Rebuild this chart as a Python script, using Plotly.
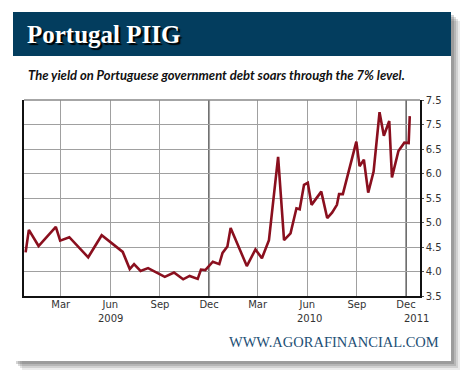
import plotly.graph_objects as go

# ---- data ----
dates = [
    "2008-12-26", "2009-01-01", "2009-01-19", "2009-02-20", "2009-02-28", "2009-03-17",
    "2009-04-21", "2009-05-16", "2009-06-24", "2009-07-07", "2009-07-15", "2009-07-27",
    "2009-08-10", "2009-09-10", "2009-09-27", "2009-10-14", "2009-10-26", "2009-11-10",
    "2009-11-16", "2009-11-24", "2009-12-08", "2009-12-20", "2009-12-26", "2010-01-04",
    "2010-01-10", "2010-01-27", "2010-02-09", "2010-02-25", "2010-03-09", "2010-03-22",
    "2010-04-08", "2010-04-19", "2010-05-01", "2010-05-12", "2010-05-18", "2010-05-26",
    "2010-06-02", "2010-06-09", "2010-06-27", "2010-07-08", "2010-07-17", "2010-07-26",
    "2010-07-30", "2010-08-06", "2010-08-31", "2010-09-06", "2010-09-14", "2010-09-22",
    "2010-10-02", "2010-10-13", "2010-10-21", "2010-10-31", "2010-11-05", "2010-11-17",
    "2010-11-28", "2010-12-06", "2010-12-08",
]
yields = [
    4.39, 4.85, 4.52, 4.91, 4.63, 4.70,
    4.29, 4.74, 4.40, 4.05, 4.15, 4.01,
    4.07, 3.89, 3.98, 3.84, 3.91, 3.85,
    4.04, 4.03, 4.20, 4.15, 4.38, 4.51,
    4.89, 4.44, 4.11, 4.45, 4.27, 4.64,
    6.34, 4.64, 4.78, 5.29, 5.27, 5.77,
    5.81, 5.36, 5.63, 5.09, 5.20, 5.36,
    5.58, 5.58, 6.65, 6.15, 6.28, 5.61,
    6.04, 7.25, 6.77, 7.07, 5.92, 6.46,
    6.63, 6.62, 7.17,
]

month_ticks = ["2009-03-01", "2009-06-01", "2009-09-01", "2009-12-01",
               "2010-03-01", "2010-06-01", "2010-09-01", "2010-12-01"]
month_labels = ["Mar", "Jun", "Sep", "Dec", "Mar", "Jun", "Sep", "Dec"]
year_pos = ["2009-06-01", "2010-06-05", "2010-12-20"]
year_labels = ["2009", "2010", "2011"]
y_ticks = [3.5, 4.0, 4.5, 5.0, 5.5, 6.0, 6.5, 7.0, 7.5]
y_labels = ["3.5", "4.0", "4.5", "5.0", "5.5", "6.0", "6.5", "7.5", "7.5"]
year_lines = ["2009-12-01", "2010-12-01"]

title = "Portugal PIIG"
subtitle = "The yield on Portuguese government debt soars through the 7% level."
footer = "WWW.AGORAFINANCIAL.COM"

# ---- geometry helpers (pixel -> paper) ----
W, H = 470, 383
L, R, T, B = 24, 420, 100, 296


def px(x):
    return (x - L) / (R - L)


def py(y):
    return (B - y) / (B - T)


HEADER = "#033d5e"
TICKFONT = dict(family="DejaVu Sans", size=10, color="#333333")

fig = go.Figure()
fig.add_trace(go.Scatter(x=dates, y=yields, mode="lines",
                         line=dict(color="#8a0f1e", width=2.6), hoverinfo="skip"))

shapes = []
# card shadow
for i, (off, op) in enumerate([(9, 0.10), (7, 0.14), (5, 0.18), (3, 0.22)]):
    shapes.append(dict(type="rect", xref="paper", yref="paper", layer="below",
                       x0=px(13 + off), x1=px(451 + off), y0=py(12 + off), y1=py(361 + off),
                       fillcolor=f"rgba(60,60,60,{op})", line=dict(width=0)))
# card
shapes.append(dict(type="rect", xref="paper", yref="paper", layer="below",
                   x0=px(13), x1=px(451), y0=py(12), y1=py(361),
                   fillcolor="white", line=dict(width=0)))
# header
shapes.append(dict(type="rect", xref="paper", yref="paper", layer="below",
                   x0=px(13), x1=px(451), y0=py(12), y1=py(56),
                   fillcolor=HEADER, line=dict(width=0)))
# year boundary lines
for d in year_lines:
    shapes.append(dict(type="line", xref="x", yref="paper", x0=d, x1=d, y0=0, y1=1,
                       line=dict(color="#6a6a6a", width=2), layer="below"))
# top border
shapes.append(dict(type="line", xref="paper", yref="paper", x0=0, x1=1, y0=1, y1=1,
                   line=dict(color="#888888", width=1.5)))

annotations = [
    dict(text=title, xref="paper", yref="paper", x=px(25), y=py(35), xanchor="left",
         yanchor="middle", showarrow=False,
         font=dict(family="Liberation Serif", size=25, color="white", weight="bold",
                   shadow="2px 2px 1px #000000")),
    dict(text=subtitle, xref="paper", yref="paper", x=px(26), y=py(75), xanchor="left",
         yanchor="middle", showarrow=False,
         font=dict(family="Lato", size=13, color="#111111", style="italic", weight="bold")),
    dict(text=footer, xref="paper", yref="paper", x=px(441), y=py(342), xanchor="right",
         yanchor="middle", showarrow=False,
         font=dict(family="Liberation Serif", size=14.5, color="#1d4f75")),
]
for d, t in zip(year_pos, year_labels):
    annotations.append(dict(text=t, xref="x", yref="paper", x=d, y=py(318),
                            xanchor="center", yanchor="middle", showarrow=False,
                            font=TICKFONT))

fig.update_layout(
    width=W, height=H,
    margin=dict(l=L, r=W - R, t=T, b=H - B),
    paper_bgcolor="white", plot_bgcolor="rgba(0,0,0,0)",
    showlegend=False,
    shapes=shapes, annotations=annotations,
    xaxis=dict(type="date", range=["2008-12-23", "2010-12-27"],
               tickvals=month_ticks, ticktext=month_labels, tickfont=TICKFONT,
               showgrid=True, gridcolor="#a0a0a0", gridwidth=1,
               showline=True, linecolor="#111111", linewidth=1.5,
               ticks="", ticklabelstandoff=-2, zeroline=False, fixedrange=True),
    yaxis=dict(range=[3.5, 7.5], side="right", tickvals=y_ticks, ticktext=y_labels,
               tickfont=TICKFONT, showgrid=True, gridcolor="#a0a0a0", gridwidth=1,
               showline=True, mirror=True, linecolor="#111111", linewidth=1.5,
               ticks="outside", ticklen=2, tickcolor="#555555",
               zeroline=False, fixedrange=True),
)

fig.write_html("out.html", config={"displayModeBar": False},
               post_script="document.body.style.margin='0';")
